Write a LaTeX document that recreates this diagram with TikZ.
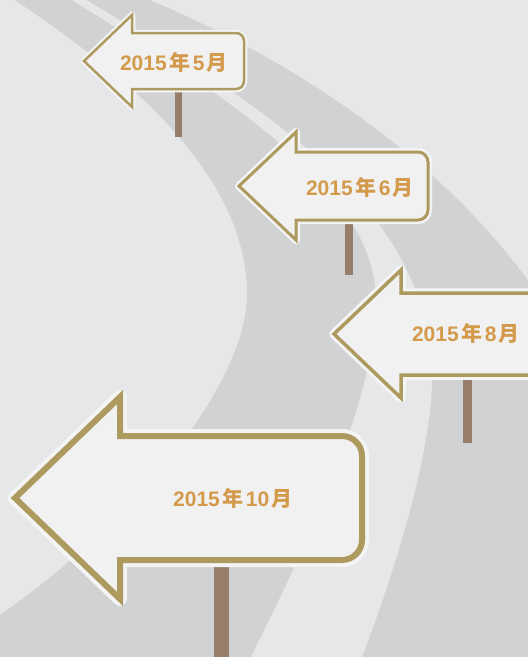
\documentclass[tikz,border=0pt]{standalone}
\usepackage{fontspec}
\setmainfont{Liberation Sans}
\newfontfamily\cjk{Noto Sans CJK SC}
\definecolor{bgc}{HTML}{E6E7E8}
\definecolor{roadc}{HTML}{D1D2D4}
\definecolor{signfill}{HTML}{F1F1F1}
\definecolor{halo}{HTML}{F4F4F4}
\definecolor{gold}{HTML}{AD9A5F}
\definecolor{txtc}{HTML}{D49A4B}
\definecolor{postc}{HTML}{977E6A}
\tikzset{
  lbl/.style={text=txtc, font=\fontsize{21}{21}\selectfont\bfseries, inner sep=0pt},
  postbar/.style={fill=postc},
}
\newcommand\signshape[8]{\path[#8] (#1,#2) -- (#3,#2-#4) -- (#3,#2-#5) -- (#6-#7,#2-#5) arc[start angle=90,end angle=0,radius=#7pt] -- (#6,#2+#5-#7) arc[start angle=0,end angle=-90,radius=#7pt] -- (#3,#2+#5) -- (#3,#2+#4) -- cycle;}
\newcommand\drawsign[9]{%
  \signshape{#1}{#2}{#3}{#4}{#5}{#6}{#7}{draw=halo,line join=round,line width={(#8+2*#9)*1pt}}%
  \signshape{#1}{#2}{#3}{#4}{#5}{#6}{#7}{fill=signfill,draw=gold,line join=miter,line width={#8*1pt}}}
\newcommand\lbltext[2]{#1\hspace{2.5pt}{\cjk 年}\hspace{2.5pt}#2\hspace{2.5pt}{\cjk 月}}
\begin{document}
\begin{tikzpicture}[x=1pt,y=-1pt]
\useasboundingbox (0,0) rectangle (528,657);
\begin{scope}
\clip (0,0) rectangle (528,657);
\fill[bgc] (-5,-5) rectangle (533,662);
% road
\fill[roadc] (10,-3) .. controls (175,105) and (247,200) .. (247,295)
  .. controls (247,380) and (140,520) .. (-10,622)
  -- (-10,670) -- (545,670) -- (545,305)
  .. controls (470,190) and (330,72) .. (130,-8) -- cycle;
% light stripe
\fill[bgc] (62,-6) .. controls (260,115) and (375,200) .. (376,300)
  .. controls (377,380) and (330,500) .. (246,667)
  -- (358,667) .. controls (400,560) and (434,440) .. (432,370)
  .. controls (425,215) and (290,120) .. (76,-6) -- cycle;
% posts
\fill[postbar] (175,90) rectangle (182,137);
\fill[postbar] (345,220) rectangle (353,275);
\fill[postbar] (463,376) rectangle (472,443);
\fill[postbar] (214,562) rectangle (229,660);
% signs
\drawsign{84}{61}{132}{46}{28}{244}{8}{2.5}{2}
\drawsign{239}{186}{296}{54}{34}{428}{10}{3}{2.5}
\drawsign{334}{334}{401}{64}{41}{575}{12}{3.5}{3}
\drawsign{15}{498}{120}{101}{62}{362}{20}{6}{4}
\end{scope}
\node[lbl] (t5) at (174,62) {\lbltext{2015}{5}};
\node[lbl] (t6) at (360,187) {\lbltext{2015}{6}};
\node[lbl] (t8) at (466,333) {\lbltext{2015}{8}};
\node[lbl] (t10) at (233,498) {\lbltext{2015}{10}};
\end{tikzpicture}
\end{document}
